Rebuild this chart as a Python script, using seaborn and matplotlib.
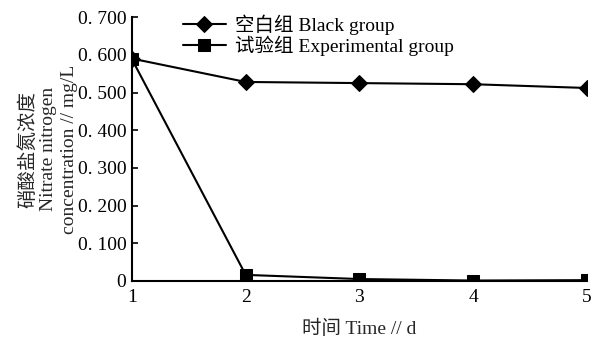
import matplotlib
matplotlib.use("Agg")
import matplotlib.pyplot as plt
import seaborn as sns
import pandas as pd

days = [1, 2, 3, 4, 5]
blank_group = [0.590, 0.528, 0.525, 0.522, 0.512]
experimental_group = [0.588, 0.016, 0.005, 0.001, 0.002]
series_names = ["空白组 Black group", "试验组 Experimental group"]
y_ticks = [0, 0.1, 0.2, 0.3, 0.4, 0.5, 0.6, 0.7]
y_tick_labels = ["0", "0. 100", "0. 200", "0. 300", "0. 400", "0. 500", "0. 600", "0. 700"]

sns.set_theme(style="ticks")
plt.rcParams["font.family"] = ["Liberation Serif", "Noto Sans CJK SC"]

df = pd.DataFrame({
    "day": days * 2,
    "value": blank_group + experimental_group,
    "group": [series_names[0]] * len(days) + [series_names[1]] * len(days),
})

fig = plt.figure(figsize=(5.93, 3.43), dpi=100)
ax = fig.add_axes([0.2226, 0.181, 0.767, 0.769])

sns.lineplot(data=df, x="day", y="value", hue="group", style="group",
             markers={series_names[0]: "D", series_names[1]: "s"},
             dashes=False, palette=["black", "black"], markersize=8,
             linewidth=1.5, markeredgecolor="black", ax=ax, legend=True)

ax.set_xlim(1, 5)
ax.set_ylim(0, 0.7)
ax.set_xticks(days)
ax.set_xticklabels([str(d) for d in days], fontsize=14)
ax.set_yticks(y_ticks)
ax.set_yticklabels(y_tick_labels, fontsize=14)
ax.tick_params(axis="y", direction="in", length=4, width=1.2, colors="black", pad=4)
ax.tick_params(axis="x", direction="in", length=0, colors="black", pad=6)
for s in ["top", "right"]:
    ax.spines[s].set_visible(False)
for s in ["left", "bottom"]:
    ax.spines[s].set_linewidth(1.5)
    ax.spines[s].set_color("black")

ax.set_xlabel("时间 Time // d", fontsize=14, labelpad=10)
ax.set_ylabel("硝酸盐氮浓度\nNitrate nitrogen\nconcentration // mg/L", fontsize=14,
              linespacing=1.25, labelpad=0)

leg = ax.legend(loc="upper left", bbox_to_anchor=(0.095, 1.04), frameon=False,
                fontsize=14, handlelength=2.2, handletextpad=0.5,
                labelspacing=0.05, borderaxespad=0)
for t in leg.get_texts():
    t.set_color("black")

fig.savefig("out.png", dpi=100, facecolor="white")
